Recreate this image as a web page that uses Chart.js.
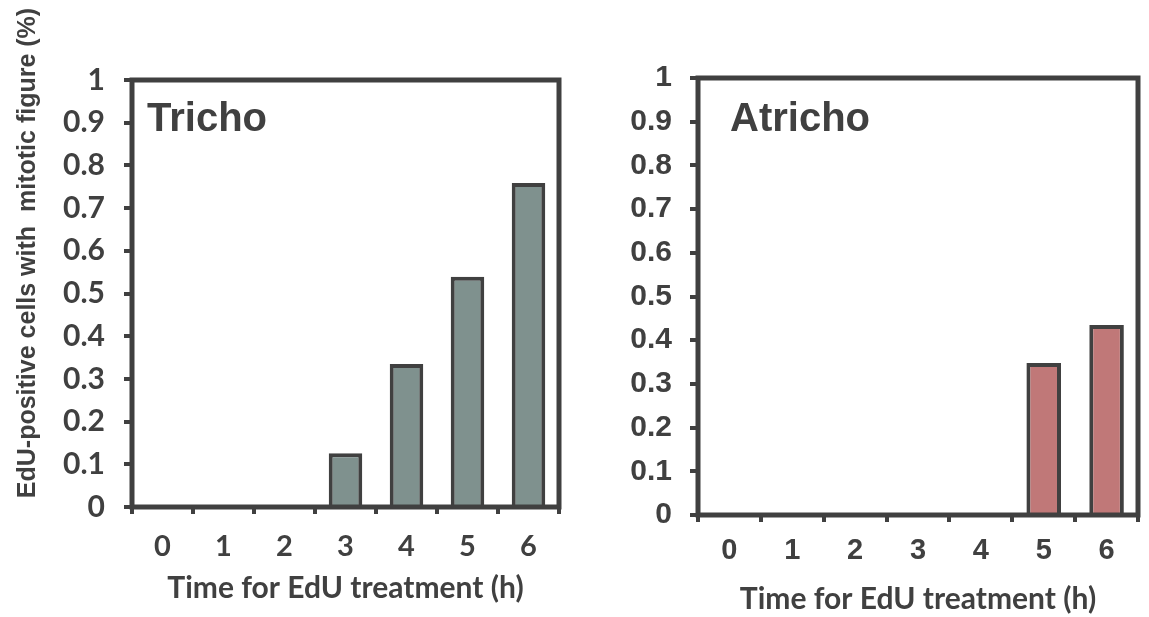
<!DOCTYPE html>
<html>
<head>
<meta charset="utf-8">
<script src="https://cdn.jsdelivr.net/npm/chart.js@4.4.1/dist/chart.umd.min.js"></script>
<style>
  body { margin: 0; background: #fff; width: 1149px; height: 617px; position: relative; overflow: hidden; }
  .box { position: absolute; top: 0; height: 617px; }
  #ytitle {
    position: absolute; left: -223px; top: 238px; width: 500px; height: 30px; line-height: 30px;
    text-align: center; transform: rotate(-90deg); white-space: pre;
    font: bold 25px "Liberation Sans", Arial, sans-serif; color: #404040;
  }
</style>
</head>
<body>
<div class="box" style="left:0;width:575px"><canvas id="tricho" width="575" height="617"></canvas></div>
<div class="box" style="left:575px;width:574px"><canvas id="atricho" width="574" height="617"></canvas></div>
<div id="ytitle">EdU-positive cells with  mitotic figure (%)</div>
<script>
// data
const hours = ['0', '1', '2', '3', '4', '5', '6'];
const trichoValues = [0, 0, 0, 0.126, 0.335, 0.539, 0.759];
const atrichoValues = [0, 0, 0, 0, 0, 0.348, 0.435];
const yTickLabels = ['0', '0.1', '0.2', '0.3', '0.4', '0.5', '0.6', '0.7', '0.8', '0.9', '1'];
const xTitle = 'Time for EdU treatment (h)';

const INK = '#404040';
const H = 617;

// box frame round the plot area
const frame = {
  id: 'frame',
  afterDatasetsDraw(chart) {
    const { ctx, chartArea: a } = chart;
    ctx.save();
    ctx.strokeStyle = INK;
    ctx.lineWidth = 5;
    ctx.strokeRect(a.left, a.top, a.right - a.left, a.bottom - a.top);
    ctx.restore();
  }
};

// panel name written inside the plot
const panelName = {
  id: 'panelName',
  afterDraw(chart, args, opts) {
    const { ctx, chartArea: a } = chart;
    ctx.save();
    ctx.font = 'bold 40px "Liberation Sans", Arial, sans-serif';
    ctx.fillStyle = INK;
    ctx.fillText(opts.text, a.left + opts.dx, a.top + opts.dy);
    ctx.restore();
  }
};

function makeChart(id, name, values, color, c) {
  new Chart(document.getElementById(id), {
    type: 'bar',
    data: {
      labels: hours,
      datasets: [{
        data: values,
        backgroundColor: color,
        borderColor: INK,
        borderWidth: 4,
        borderSkipped: 'start',
        barPercentage: 0.55,
        categoryPercentage: 1
      }]
    },
    options: {
      responsive: false,
      animation: false,
      layout: { padding: { top: c.top, right: c.w - c.right, left: 0, bottom: 0 } },
      plugins: {
        legend: { display: false },
        tooltip: { enabled: false },
        panelName: { text: name, dx: c.nameX, dy: c.nameY }
      },
      scales: {
        x: {
          grid: { offset: true, drawOnChartArea: false, tickLength: 7, lineWidth: 4, color: INK },
          border: { display: false },
          ticks: { color: INK, font: c.xFont, padding: c.xPad },
          title: {
            display: true, text: xTitle, color: INK,
            font: { family: 'Lato', weight: 'bold', size: 30 },
            padding: { top: 0, bottom: c.titlePad }
          },
          afterFit: s => { s.height = H - c.bottom; }
        },
        y: {
          min: 0, max: 1,
          grid: { drawOnChartArea: false, tickLength: 8, lineWidth: 4, color: INK },
          border: { display: false },
          ticks: {
            stepSize: 0.1, color: INK, font: c.yFont, padding: c.yPad,
            callback: (v, i) => yTickLabels[i]
          },
          afterFit: s => { s.width = c.left; }
        }
      }
    },
    plugins: [frame, panelName]
  });
}

makeChart('tricho', 'Tricho', trichoValues, '#7f918e', {
  w: 575, left: 132, top: 80, right: 559, bottom: 507,
  yFont: { family: 'Lato', weight: 'bold', size: 30 },
  xFont: { family: 'Lato', weight: 'bold', size: 29 },
  yPad: 19, xPad: 15, titlePad: 11, nameX: 15, nameY: 51
});

makeChart('atricho', 'Atricho', atrichoValues, '#c07878', {
  w: 574, left: 123, top: 78, right: 563, bottom: 515,
  yFont: { family: 'Liberation Sans', weight: 'bold', size: 30 },
  xFont: { family: 'Liberation Sans', weight: 'bold', size: 29 },
  yPad: 18, xPad: 12, titlePad: 0, nameX: 32, nameY: 53
});
</script>
</body>
</html>
